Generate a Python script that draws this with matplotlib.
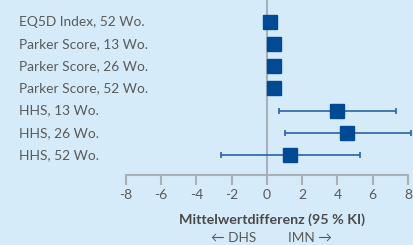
import matplotlib
matplotlib.use("Agg")
import matplotlib.pyplot as plt
from matplotlib.transforms import blended_transform_factory

# data
labels = ["EQ5D Index, 52 Wo.", "Parker Score, 13 Wo.", "Parker Score, 26 Wo.",
          "Parker Score, 52 Wo.", "HHS, 13 Wo.", "HHS, 26 Wo.", "HHS, 52 Wo."]
means = [0.15, 0.4, 0.4, 0.4, 4.0, 4.55, 1.3]
ci_low = [None, None, None, None, 0.7, 1.0, -2.6]
ci_high = [None, None, None, None, 7.3, 8.15, 5.25]
xticks = [-8, -6, -4, -2, 0, 2, 4, 6, 8]

bg = "#d5ebfa"
grey = "#a9b1b8"
navy = "#004a95"
textc = "#5a5a5a"

plt.rcParams['font.family'] = ['Lato', 'DejaVu Sans']

fig = plt.figure(figsize=(4.14, 2.45), dpi=100, facecolor=bg)
ax = fig.add_axes([126 / 414, 70 / 245, 282 / 414, 175 / 245])
ax.set_facecolor(bg)

ypos = list(range(len(labels)))

# zero line
ax.axvline(0, color=grey, lw=1.5, zorder=1)

for y, m, lo, hi in zip(ypos, means, ci_low, ci_high):
    if lo is not None:
        ax.errorbar(m, y, xerr=[[m - lo], [hi - m]], fmt='none', ecolor="#2a62a6",
                    elinewidth=1.2, capsize=2.5, capthick=1.2, zorder=2, clip_on=False)
    ax.plot(m, y, marker='s', ms=10, color=navy, mec=navy, ls='none', zorder=3, clip_on=False)

ax.set_xlim(-8, 8)
ax.set_ylim(6.9, -0.98)
ax.set_xticks(xticks)
ax.set_xticklabels([str(t) for t in xticks], fontsize=10, color=textc)
ax.set_yticks([])
for s in ["top", "right", "left"]:
    ax.spines[s].set_visible(False)
ax.spines["bottom"].set_color(grey)
ax.spines["bottom"].set_linewidth(1.5)
ax.tick_params(axis='x', length=7, width=1.5, color=grey, pad=3)

trans = blended_transform_factory(fig.transFigure, ax.transData)
for y, lab in zip(ypos, labels):
    ax.text(19 / 414, y, lab, transform=trans, ha='left', va='center',
            fontsize=9.9, color=textc)

tb = blended_transform_factory(ax.transData, fig.transFigure)
ax.text(0.3, 1 - 220 / 245, "Mittelwertdifferenz (95 % KI)", transform=tb,
        ha='center', va='center', fontsize=10.3, fontweight='bold', color="#4a4a4a")
ax.text(-0.6, 1 - 238 / 245, "\u2190 DHS", transform=tb, ha='right', va='center',
        fontsize=9.8, color=textc)
ax.text(1.2, 1 - 238 / 245, "IMN \u2192", transform=tb, ha='left', va='center',
        fontsize=9.8, color=textc)

fig.savefig("out.png", dpi=100, facecolor=bg)
